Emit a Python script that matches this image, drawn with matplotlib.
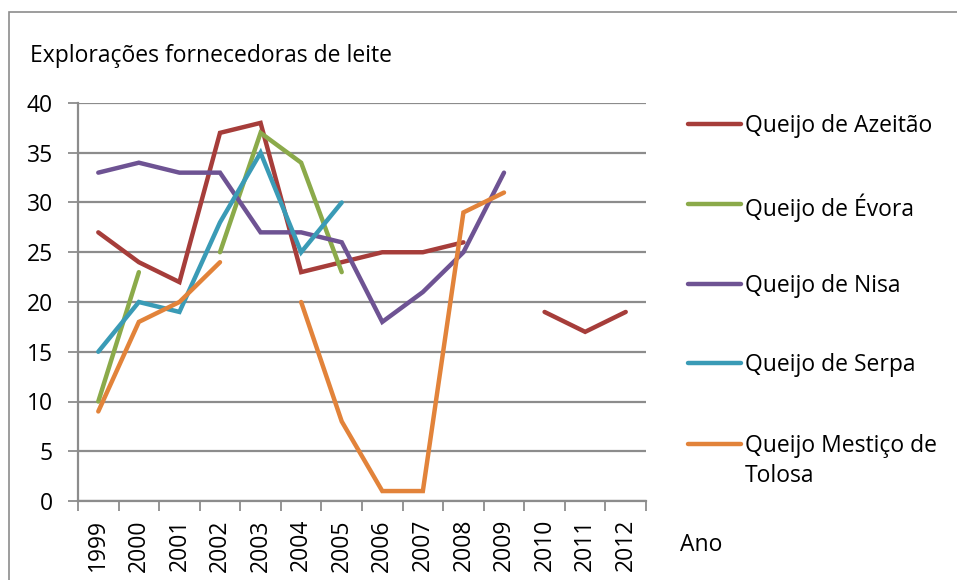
import numpy as np
import matplotlib
matplotlib.use("Agg")
import matplotlib.pyplot as plt
from matplotlib.lines import Line2D
from matplotlib.patches import Rectangle

nan = np.nan

years = ["1999", "2000", "2001", "2002", "2003", "2004", "2005",
         "2006", "2007", "2008", "2009", "2010", "2011", "2012"]

azeitao = [27, 24, 22, 37, 38, 23, 24, 25, 25, 26, nan, 19, 17, 19]
evora = [10, 23, nan, 25, 37, 34, 23, nan, nan, nan, nan, nan, nan, nan]
nisa = [33, 34, 33, 33, 27, 27, 26, 18, 21, 25, 33, nan, nan, nan]
serpa = [15, 20, 19, 28, 35, 25, 30, nan, nan, nan, nan, nan, nan, nan]
tolosa = [9, 18, 20, 24, nan, 20, 8, 1, 1, 29, 31, nan, nan, nan]

names = ["Queijo de Azeitão", "Queijo de Évora", "Queijo de Nisa",
         "Queijo de Serpa", "Queijo Mestiço de\nTolosa"]
series = [azeitao, evora, nisa, serpa, tolosa]
colors = ["#A63D3A", "#8BAA4A", "#6E5393", "#3A9BB6", "#E2833A"]

y_ticks = [0, 5, 10, 15, 20, 25, 30, 35, 40]

W, H = 957, 580
FONT = "Open Sans"
FS = 16.5
GRID = "#8C8C8C"

fig = plt.figure(figsize=(W / 100, H / 100), dpi=100)
fig.patch.set_facecolor("white")

# outer chart border
fig.add_artist(Rectangle((9 / W, -0.05), 1.1, 1 - 12 / H + 0.05,
                         transform=fig.transFigure, fill=False,
                         edgecolor="#8C8C8C", linewidth=1.2))

ax = fig.add_axes([78 / W, (H - 501) / H, (646 - 78) / W, (501 - 103) / H])

x = np.arange(len(years))
for vals, col in zip(series, colors):
    ax.plot(x, vals, color=col, linewidth=3.2, solid_capstyle="round",
            solid_joinstyle="miter", zorder=3)

ax.set_xlim(-0.5, len(years) - 0.5)
ax.set_ylim(0, 40)

ax.set_yticks(y_ticks)
ax.set_yticklabels([str(v) for v in y_ticks], fontsize=FS, family=FONT)
ax.yaxis.grid(True, color=GRID, linewidth=1.6)
ax.set_axisbelow(True)

ax.set_xticks(x)
ax.set_xticklabels(years, rotation=90, fontsize=FS, family=FONT)
ax.set_xticks(np.arange(-0.5, len(years), 1), minor=True)
ax.tick_params(axis="x", which="major", length=0, pad=13)
ax.tick_params(axis="x", which="minor", length=7, width=1.3, color=GRID)
ax.tick_params(axis="y", length=7, width=1.3, color=GRID, pad=11)

for side in ["top", "right"]:
    ax.spines[side].set_visible(False)
for side in ["left", "bottom"]:
    ax.spines[side].set_color(GRID)
    ax.spines[side].set_linewidth(1.6)

fig.text(30 / W, 1 - 56 / H, "Explorações fornecedoras de leite",
         fontsize=FS, family=FONT, ha="left", va="center")
fig.text(680 / W, 1 - 545 / H, "Ano", fontsize=FS, family=FONT,
         ha="left", va="center")

# legend on the right
leg_y = [124, 204, 284, 363, 444]
for name, col, ly in zip(names, colors, leg_y):
    fig.add_artist(Line2D([688 / W, 741 / W], [1 - ly / H, 1 - ly / H],
                          transform=fig.transFigure, color=col,
                          linewidth=3.2, solid_capstyle="round"))
    fig.text(745 / W, 1 - (ly - 10) / H, name, fontsize=FS, family=FONT,
             ha="left", va="top", linespacing=1.36)

fig.savefig("out.png", dpi=100)
